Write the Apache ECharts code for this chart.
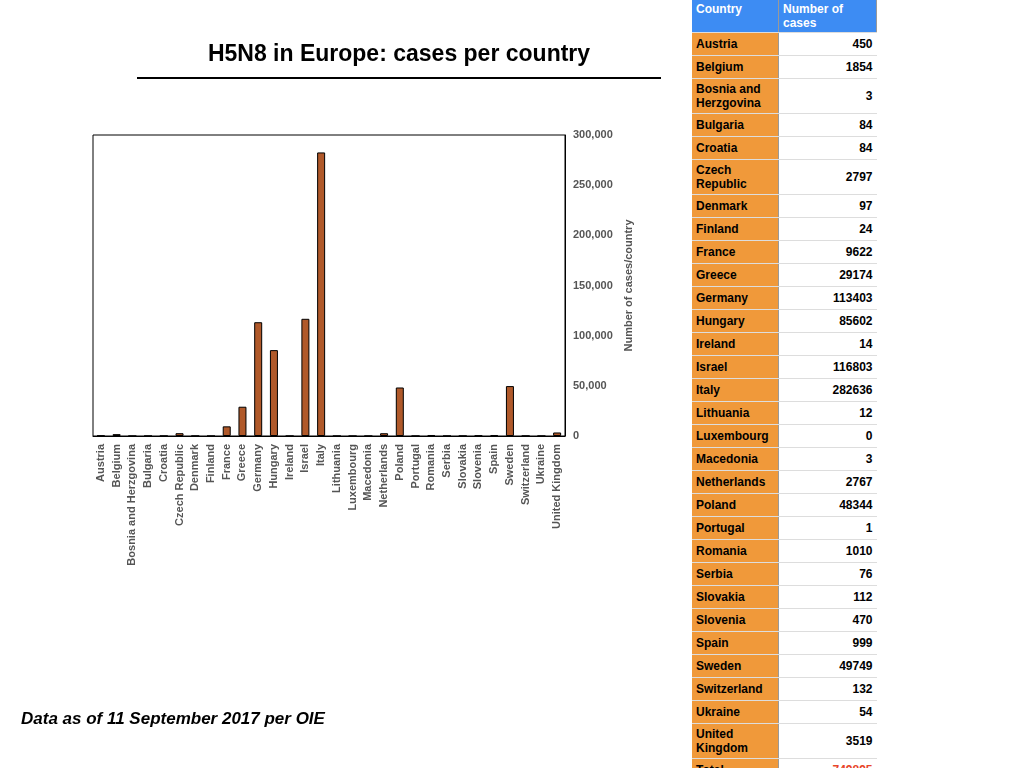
<!DOCTYPE html>
<html><head><meta charset="utf-8">
<script src="https://cdn.jsdelivr.net/npm/echarts@6/dist/echarts.min.js"></script>
<style>
body{margin:0;width:1024px;height:768px;position:relative;font-family:"Liberation Sans",Arial,sans-serif;background:#fff;overflow:hidden}
#chart{position:absolute;left:0;top:0;width:680px;height:768px}
#title{position:absolute;left:137px;width:524px;top:40px;text-align:center;font-size:23px;font-weight:bold;padding-bottom:10px;border-bottom:2px solid #000}
#foot{position:absolute;left:21px;top:709px;font-size:17px;font-weight:bold;font-style:italic}
table{position:absolute;left:692px;top:0;border-collapse:collapse;font-size:12px;font-weight:bold;width:185px;table-layout:fixed}
td{padding:2px 4px;border-bottom:1px solid #ddd;height:18px;line-height:14px}
td.c{background:#F0993A;width:78px;border-right:1px solid #999}
td.v{text-align:right;background:#fff}
tr.h td{background:#3D8CF3;color:#fff;height:28px;vertical-align:top;border-right:1px solid #999}
</style></head><body>
<div id="chart"></div>
<div id="title">H5N8 in Europe: cases per country</div>
<div id="foot">Data as of 11 September 2017 per OIE</div>
<table id="tbl"></table>
<script>
var countries = ['Austria','Belgium','Bosnia and Herzgovina','Bulgaria','Croatia','Czech Republic','Denmark','Finland','France','Greece','Germany','Hungary','Ireland','Israel','Italy','Lithuania','Luxembourg','Macedonia','Netherlands','Poland','Portugal','Romania','Serbia','Slovakia','Slovenia','Spain','Sweden','Switzerland','Ukraine','United Kingdom'];
var cases = [450,1854,3,84,84,2797,97,24,9622,29174,113403,85602,14,116803,282636,12,0,3,2767,48344,1,1010,76,112,470,999,49749,132,54,3519];
var total = 749895;

var html = '<tr class="h"><td style="width:78px">Country</td><td>Number of cases</td></tr>';
countries.forEach(function(c,i){
  var twoLine = (c=='Bosnia and Herzgovina'||c=='Czech Republic'||c=='United Kingdom');
  html += '<tr><td class="c"'+(twoLine?' style="height:30px"':'')+'>'+c.replace('Bosnia and Herzgovina','Bosnia and Herzgovina')+'</td><td class="v">'+cases[i]+'</td></tr>';
});
html += '<tr><td class="c">Total</td><td class="v" style="color:#E8462A">'+total+'</td></tr>';
document.getElementById('tbl').innerHTML = html;

var chart = echarts.init(document.getElementById('chart'));
chart.setOption({
  animation:false,
  grid:{left:93,right:115,top:135,bottom:332,show:true,borderColor:'#000',borderWidth:1},
  xAxis:{type:'category',data:countries,
    axisLine:{lineStyle:{color:'#000'}},axisTick:{show:false},
    axisLabel:{rotate:90,interval:0,color:'#555',fontWeight:'bold',fontSize:11,margin:8}},
  yAxis:{type:'value',position:'right',min:0,max:300000,interval:50000,
    name:'Number of cases/country',nameLocation:'middle',nameRotate:90,nameGap:50,
    nameTextStyle:{color:'#555',fontWeight:'bold',fontSize:11},
    axisLine:{show:true,lineStyle:{color:'#000'}},axisTick:{show:false},splitLine:{show:false},
    axisLabel:{color:'#555',fontWeight:'bold',fontSize:11,margin:8}},
  series:[{type:'bar',data:cases,barWidth:8,
    itemStyle:{color:'#B0592A',borderColor:'#000',borderWidth:1}}]
});
</script>
</body></html>
